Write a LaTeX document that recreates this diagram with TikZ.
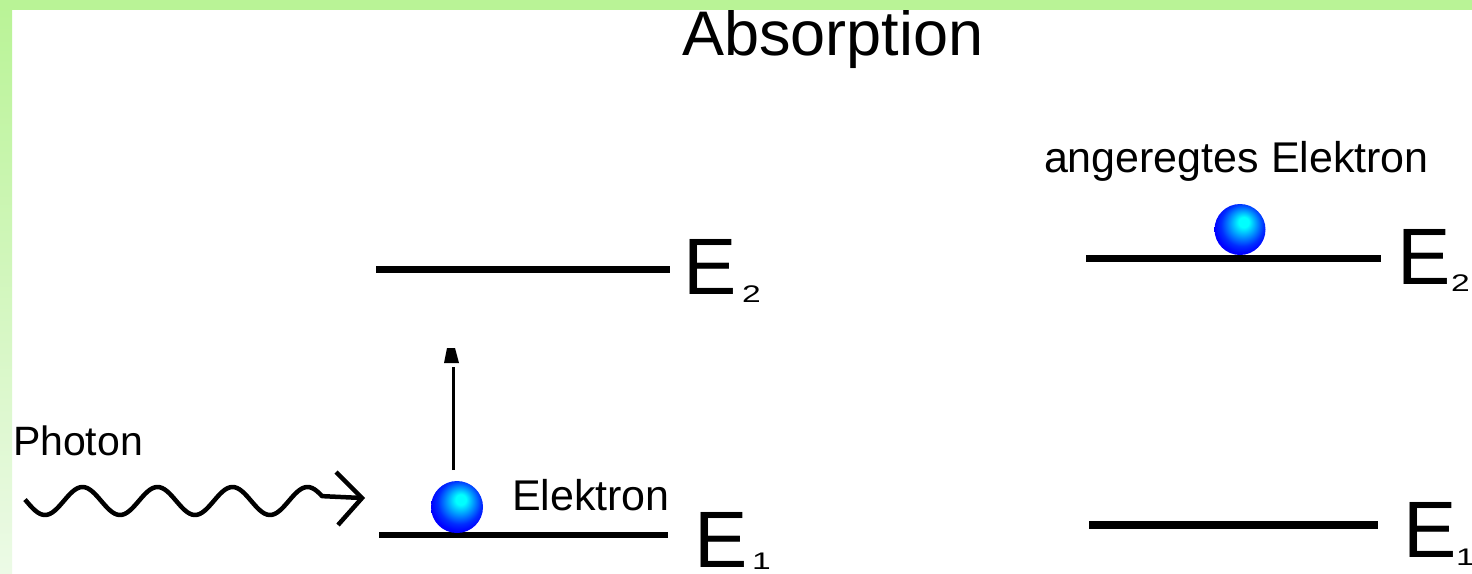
\documentclass[tikz,border=0pt]{standalone}
\usepackage{fontspec}
\setmainfont{Liberation Sans}
\usetikzlibrary{arrows.meta}
\definecolor{bordergreen}{RGB}{185,243,150}
\definecolor{borderpale}{RGB}{236,250,230}
\definecolor{ballcore}{RGB}{0,255,255}
\definecolor{ballmid}{RGB}{0,150,255}
\definecolor{balledge}{RGB}{0,0,255}
\pgfdeclareradialshading{eball}{\pgfqpoint{4bp}{8bp}}{color(0bp)=(ballcore); color(5bp)=(ballcore); color(13bp)=(ballmid); color(21bp)=(balledge!70!ballmid); color(27bp)=(balledge); color(50bp)=(balledge)}
\tikzset{
  level/.style={line width=6.8pt},
  electron/.style={circle, inner sep=0pt, minimum size=#1, shading=eball, draw=none},
  lbl/.style={anchor=base west, inner sep=0pt, outer sep=0pt},
  sub/.style={anchor=base west, inner sep=0pt, outer sep=0pt, xscale=1.4, font=\fontsize{24}{28}\selectfont},
  wave/.style={line width=4.5pt, line join=round},
  excite/.style={line width=3pt},
}
\begin{document}
\begin{tikzpicture}[x=1pt, y=-1pt]
\useasboundingbox (0,0) rectangle (1472,573);
\fill[white] (0,0) rectangle (1472,573);

% title
\node[lbl] (title) at (682,55) {\fontsize{63}{70}\selectfont Absorption};

% left: energy levels
\coordinate (E2La) at (376,269.5);
\coordinate (E2Lb) at (670,269.5);
\coordinate (E1La) at (379,535);
\coordinate (E1Lb) at (668,535);
\draw[level] (E2La) -- (E2Lb);
\draw[level] (E1La) -- (E1Lb);
\node[lbl] (E2L) at (683,294) {\fontsize{80}{90}\selectfont E};
\node[sub] (E2Ls) at (742,302) {2};
\node[lbl] (E1L) at (694,567) {\fontsize{80}{90}\selectfont E};
\node[sub] (E1Ls) at (752,569) {1};

% left electron
\node[electron=52pt] (ballL) at (457,507) {};
\node[lbl] (elek) at (512,510) {\fontsize{43}{50}\selectfont Elektron};
\coordinate (upstart) at (453,470);
\coordinate (upend) at (453,367);
\draw[excite] (upstart) -- (upend);
\fill (447,348) -- (455,348) -- (459,363) -- (444,363) -- cycle;

% photon
\node[lbl] (photon) at (13,455) {\fontsize{41}{48}\selectfont Photon};
\coordinate (phtip) at (362,498);
\draw[wave] plot[domain=25:322, samples=120, smooth] (\x, {501+14*cos((\x-45)*4.8)}) -- (phtip);
\draw[line width=4.5pt, line cap=butt, line join=miter] (336,472) -- (phtip) -- (338,525);

% right: energy levels
\coordinate (E2Ra) at (1086,258.5);
\coordinate (E2Rb) at (1381,258.5);
\coordinate (E1Ra) at (1089,525);
\coordinate (E1Rb) at (1378,525);
\draw[level] (E2Ra) -- (E2Rb);
\draw[level, line width=8pt] (E1Ra) -- (E1Rb);
\node[lbl] (E2R) at (1397,284) {\fontsize{80}{90}\selectfont E};
\node[sub] (E2Rs) at (1451,291) {2};
\node[lbl] (E1R) at (1403,557) {\fontsize{80}{90}\selectfont E};
\node[sub] (E1Rs) at (1456,565) {1};

\node[electron=51pt] (ballR) at (1240,229.5) {};
\node[lbl] (anger) at (1044,172) {\fontsize{43}{50}\selectfont angeregtes Elektron};

% green border
\shade[top color=bordergreen, bottom color=borderpale] (0,0) rectangle (12,573);
\fill[bordergreen] (0,0) rectangle (1472,10);
\end{tikzpicture}
\end{document}
